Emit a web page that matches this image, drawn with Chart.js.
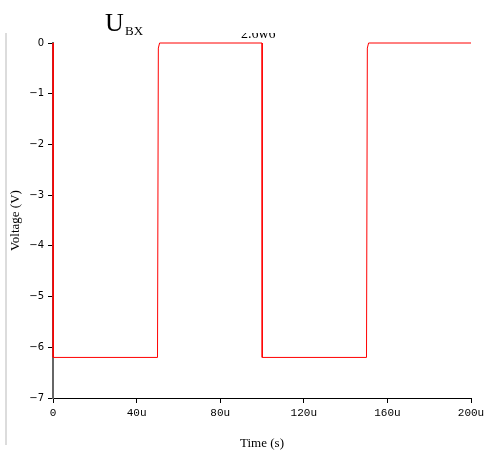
<!DOCTYPE html>
<html>
<head>
<meta charset="utf-8">
<script src="https://cdn.jsdelivr.net/npm/chart.js"></script>
<style>
  body { margin: 0; background: #fff; }
  #wrap { width: 488px; height: 451px; position: relative; }
</style>
</head>
<body>
<div id="wrap"><canvas id="myChart" width="488" height="451"></canvas></div>
<script>
// time in microseconds, voltage in volts
const timeUs = [0, 0.1, 50, 50.4, 51, 100, 100.1, 150, 150.4, 151, 200];
const voltage = [0, -6.2, -6.2, -0.1, 0, 0, -6.2, -6.2, -0.1, 0, 0];
const xTicks = [0, 40, 80, 120, 160, 200];
const yTicks = [0, -1, -2, -3, -4, -5, -6, -7];

const points = timeUs.map((t, i) => ({ x: t, y: voltage[i] }));

const extras = {
  id: 'extras',
  beforeDraw(chart) {
    const c = chart.ctx;
    c.save();
    // left gray rule
    c.fillStyle = '#dcdcdc';
    c.fillRect(5, 33, 2, 412);
    c.restore();
  },
  afterDraw(chart) {
    const c = chart.ctx;
    c.save();
    // title U_BX
    c.fillStyle = '#000';
    c.font = '26px "Liberation Serif"';
    c.textBaseline = 'alphabetic';
    c.fillText('U', 105, 31);
    c.font = '13px "Liberation Serif"';
    c.fillText('BX', 125, 35);
    // clipped label at the top
    c.beginPath();
    c.rect(230, 33, 70, 8);
    c.clip();
    c.font = '14px "Liberation Serif"';
    c.fillText('2.6w6', 241, 38);
    c.restore();
  }
};

new Chart(document.getElementById('myChart'), {
  type: 'scatter',
  data: {
    datasets: [{
      data: points,
      showLine: true,
      borderColor: '#ff0000',
      borderWidth: 1,
      pointRadius: 0,
      tension: 0
    }]
  },
  options: {
    responsive: false,
    animation: false,
    clip: false,
    layout: { padding: { left: 8, right: 17, top: 43, bottom: 0 } },
    plugins: { legend: { display: false }, tooltip: { enabled: false } },
    scales: {
      x: {
        type: 'linear',
        min: 0,
        max: 200,
        afterFit(s) { s.height = 53; },
        afterBuildTicks(s) { s.ticks = xTicks.map(v => ({ value: v })); },
        ticks: {
          color: '#000',
          font: { family: '"Liberation Mono"', size: 11 },
          padding: 3,
          maxRotation: 0,
          callback: v => v === 0 ? '0' : v + 'u'
        },
        grid: { drawOnChartArea: false, drawTicks: true, tickLength: 5, color: '#000' },
        border: { color: '#000', width: 1 },
        title: {
          display: true,
          text: 'Time (s)',
          color: '#000',
          font: { family: '"Liberation Serif"', size: 13 },
          padding: { top: 4, bottom: 0 }
        }
      },
      y: {
        min: -7,
        max: 0,
        afterFit(s) { s.width = 45; },
        afterBuildTicks(s) { s.ticks = yTicks.map(v => ({ value: v })); },
        ticks: {
          color: '#000',
          font: { family: '"DejaVu Sans"', size: 10 },
          padding: 4,
          callback: v => v === 0 ? '0' : '\u2212' + Math.abs(v)
        },
        grid: { drawOnChartArea: false, drawTicks: true, tickLength: 5, color: '#000' },
        border: { color: '#666', width: 2 },
        title: {
          display: true,
          text: 'Voltage (V)',
          color: '#000',
          font: { family: '"Liberation Serif"', size: 13 },
          padding: { top: 0, bottom: 2 }
        }
      }
    }
  },
  plugins: [extras]
});
</script>
</body>
</html>
